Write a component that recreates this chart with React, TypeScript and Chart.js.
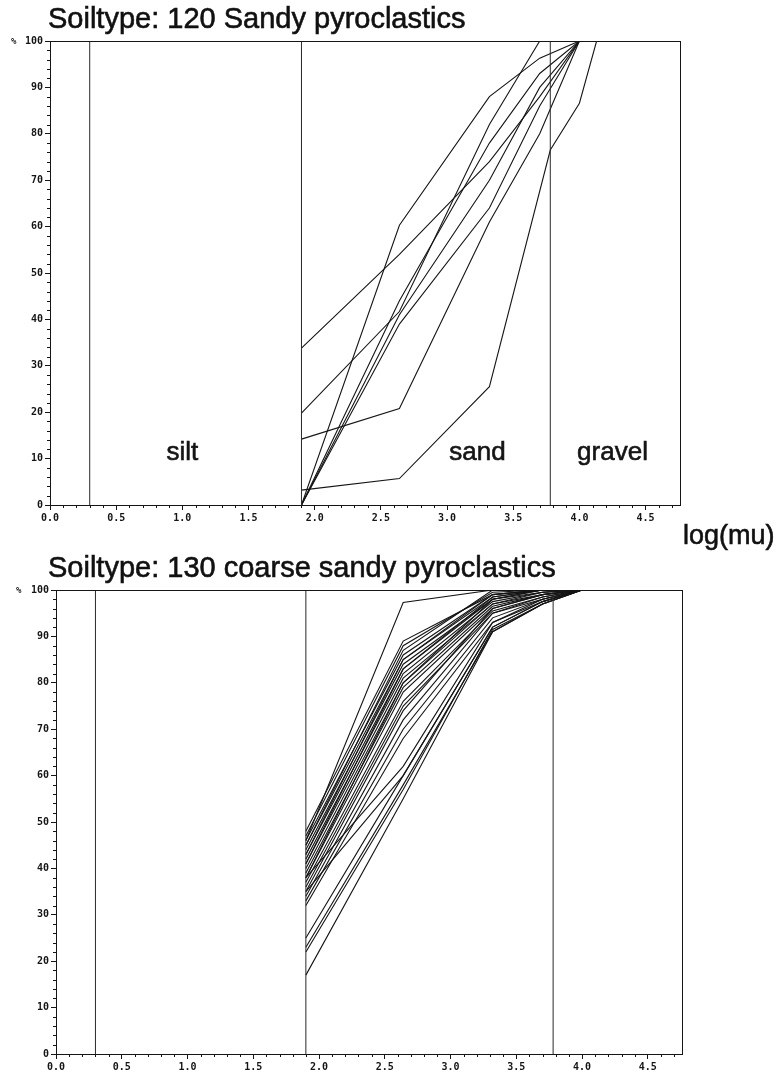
import React, { useEffect, useRef } from 'react';
import { Chart, registerables } from 'chart.js';

Chart.register(...registerables);

// ---------- axes ----------
const X_MAX = 4.76;
const xTickValues = [0, 0.5, 1, 1.5, 2, 2.5, 3, 3.5, 4, 4.5];
const yTickValues = [0, 10, 20, 30, 40, 50, 60, 70, 80, 90, 100];

// ---------- fraction boundaries (log mu) ----------
const boundaryLogs = [0.3, 1.9, 3.78];
const regionNames = ['silt', 'sand', 'gravel'];
const regionCentersLog = [1.0, 3.23, 4.25];
const regionLabelPct = 9.6;

// ---------- soiltype 120: cumulative % passing ----------
const sieves120 = [1.9, 2.64, 3.32, 3.7, 4.0];
const s120_1 = [33.8, 54, 74, 88, 100];
const s120_2 = [19.8, 41.7, 82, 100, 100];
const s120_3 = [14.2, 20.8, 61, 80, 100];
const s120_5 = [0, 60.3, 88, 96.3, 100];
const s120_6 = [0, 44, 78, 93, 100];
const s120_7 = [0, 41, 70, 90, 100];
const s120_8 = [0, 39, 64, 86, 100];
const sieves120b = [1.9, 2.64, 3.32, 3.78, 4.0, 4.13];
const s120_4 = [3.2, 5.7, 25.5, 76.5, 86.6, 100];

// ---------- soiltype 130: cumulative % passing ----------
const sieves130 = [1.9, 2.64, 3.32, 3.7, 4.0];
const s130_outlier = [46, 97.3, 100, 100, 100];
const s130_band = [
  [48, 89, 99, 100, 100],
  [47, 88, 99.5, 100, 100],
  [46, 86, 99, 100, 100],
  [45, 85, 98.5, 100, 100],
  [45, 87, 100, 100, 100],
  [44, 84, 98, 99.5, 100],
  [43, 83, 98, 100, 100],
  [43, 85, 99, 100, 100],
  [42, 82, 97.5, 99.5, 100],
  [41, 81, 97, 99, 100],
  [41, 83, 98.5, 100, 100],
  [40, 80, 97, 99.5, 100],
  [39, 79, 96.5, 99, 100],
  [38, 78, 96, 99, 100],
  [38, 80, 98, 100, 100],
  [37, 76, 95.5, 98.5, 100],
  [36, 75, 95, 98.5, 100],
  [35, 74, 96, 99, 100],
  [34, 72, 95, 98, 100],
  [33, 70, 94, 98, 100],
  [32, 68, 93, 97.5, 100],
];
const s130_lower = [
  [38, 62, 93, 98, 100],
  [35, 60, 92, 97.5, 100],
  [25, 60, 92, 97.5, 100],
  [23, 58, 91, 97, 100],
  [22, 57, 91.5, 97, 100],
  [17, 55, 91, 97, 100],
];

const INK = '#151515';

function series(xs: number[], ys: number[]) {
  return {
    data: xs.map((x, i) => ({ x, y: ys[i] })),
    borderColor: INK,
    borderWidth: 1.1,
    pointRadius: 0,
    fill: false,
    tension: 0,
  };
}

function boundaries() {
  return boundaryLogs.map((b) => ({
    data: [{ x: b, y: 0 }, { x: b, y: 100 }],
    borderColor: '#2a2a2a',
    borderWidth: 1,
    pointRadius: 0,
    fill: false,
  }));
}

const tickFont = { family: '"DejaVu Sans Mono", monospace', size: 10, weight: 'bold' as const };

const decorPlugin = {
  id: 'soilDecor',
  afterDraw(chart: any, _args: any, opts: any) {
    const { ctx, chartArea: a, scales } = chart;
    const xs = scales.x;
    const ys = scales.y;
    ctx.save();
    ctx.strokeStyle = INK;
    ctx.lineWidth = 1;
    ctx.strokeRect(Math.round(a.left) + 0.5, Math.round(a.top) + 0.5, Math.round(a.right - a.left), Math.round(a.bottom - a.top));
    ctx.beginPath();
    for (let i = 0; i <= 100; i += 2) {
      if (i % 10 === 0) continue;
      const y = Math.round(ys.getPixelForValue(i)) + 0.5;
      ctx.moveTo(a.left - 3, y);
      ctx.lineTo(a.left, y);
    }
    for (let i = 1; i <= 47; i++) {
      if (i % 5 === 0) continue;
      const x = Math.round(xs.getPixelForValue(i / 10)) + 0.5;
      ctx.moveTo(x, a.bottom);
      ctx.lineTo(x, a.bottom + 3);
    }
    ctx.stroke();
    ctx.fillStyle = INK;
    ctx.font = 'bold 9px "DejaVu Sans Mono", monospace';
    ctx.textAlign = 'left';
    ctx.textBaseline = 'middle';
    ctx.fillText('%', opts.pctX, ys.getPixelForValue(100) + 1);
    if (opts.regions) {
      ctx.font = '26px "Liberation Sans", Arial, sans-serif';
      ctx.textAlign = 'center';
      ctx.textBaseline = 'alphabetic';
      ctx.lineWidth = 0.6;
      regionNames.forEach((name, i) => {
        const px = xs.getPixelForValue(regionCentersLog[i]);
        const py = ys.getPixelForValue(regionLabelPct);
        ctx.fillText(name, px, py);
        ctx.strokeText(name, px, py);
      });
    }
    ctx.restore();
  },
};

function makeConfig(datasets: any[], geo: any) {
  return {
    type: 'line' as const,
    data: { datasets },
    options: {
      animation: false as const,
      responsive: false,
      maintainAspectRatio: false,
      layout: { padding: { top: geo.top, right: geo.right, left: 0, bottom: 0 } },
      plugins: {
        legend: { display: false },
        tooltip: { enabled: false },
        title: { display: false },
        soilDecor: { regions: geo.regions, pctX: geo.pctX },
      },
      scales: {
        x: {
          type: 'linear' as const,
          min: 0,
          max: X_MAX,
          afterBuildTicks: (s: any) => {
            s.ticks = xTickValues.map((v) => ({ value: v }));
          },
          afterFit: (s: any) => {
            s.height = geo.xAxisH;
          },
          ticks: {
            callback: (v: any) => Number(v).toFixed(1),
            font: tickFont,
            color: INK,
            padding: 2,
            maxRotation: 0,
            autoSkip: false,
          },
          grid: { drawOnChartArea: false, drawTicks: true, tickLength: 5, color: INK },
          border: { display: false },
        },
        y: {
          type: 'linear' as const,
          min: 0,
          max: 100,
          afterBuildTicks: (s: any) => {
            s.ticks = yTickValues.map((v) => ({ value: v }));
          },
          afterFit: (s: any) => {
            s.width = geo.yAxisW;
          },
          ticks: {
            callback: (v: any) => String(v),
            font: tickFont,
            color: INK,
            padding: 2,
            autoSkip: false,
          },
          grid: { drawOnChartArea: false, drawTicks: true, tickLength: 5, color: INK },
          border: { display: false },
        },
      },
    },
    plugins: [decorPlugin],
  };
}

function SoilChart(props: { datasets: any[]; geo: any; height: number }) {
  const ref = useRef<HTMLCanvasElement>(null);
  useEffect(() => {
    if (!ref.current) return;
    const chart = new Chart(ref.current, makeConfig(props.datasets, props.geo) as any);
    return () => chart.destroy();
  }, []);
  return <canvas ref={ref} width={776} height={props.height} style={{ display: 'block', width: 776, height: props.height }} />;
}

const titleStyle: React.CSSProperties = {
  position: 'absolute',
  font: '29px "Liberation Sans", Arial, sans-serif',
  color: '#111',
  whiteSpace: 'nowrap',
  margin: 0,
  WebkitTextStroke: '0.6px #111',
};

export default function App() {
  const ds120 = [
    ...boundaries(),
    series(sieves120, s120_1),
    series(sieves120, s120_2),
    series(sieves120, s120_3),
    series(sieves120b, s120_4),
    series(sieves120, s120_5),
    series(sieves120, s120_6),
    series(sieves120, s120_7),
    series(sieves120, s120_8),
  ];
  const ds130 = [
    ...boundaries(),
    ...s130_band.map((v) => series(sieves130, v)),
    ...s130_lower.map((v) => series(sieves130, v)),
    series(sieves130, s130_outlier),
  ];
  return (
    <div style={{ position: 'absolute', left: 0, top: 0, width: 776, height: 1074, background: '#fff' }}>
      <div style={{ position: 'absolute', left: 0, top: 0 }}>
        <SoilChart datasets={ds120} height={530} geo={{ top: 41, right: 96, yAxisW: 50, xAxisH: 25, regions: true, pctX: 11 }} />
      </div>
      <div style={{ position: 'absolute', left: 0, top: 540 }}>
        <SoilChart datasets={ds130} height={534} geo={{ top: 50, right: 94, yAxisW: 56, xAxisH: 20, regions: false, pctX: 16 }} />
      </div>
      <div style={{ ...titleStyle, left: 48, top: 2 }}>Soiltype: 120 Sandy pyroclastics</div>
      <div style={{ ...titleStyle, left: 48, top: 551 }}>Soiltype: 130 coarse sandy pyroclastics</div>
      <div style={{ ...titleStyle, font: '27px "Liberation Sans", Arial, sans-serif', left: 683, top: 520 }}>log(mu)</div>
    </div>
  );
}
